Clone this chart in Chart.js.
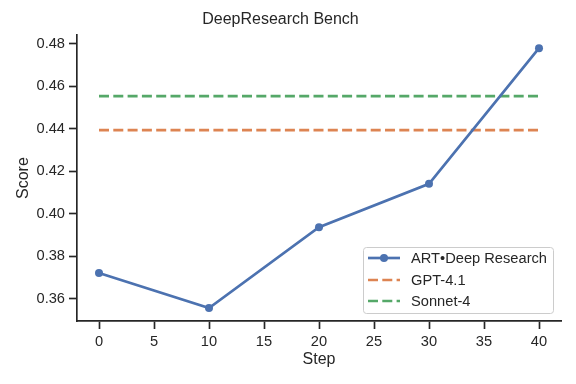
<!DOCTYPE html>
<html>
<head>
<meta charset="utf-8">
<script src="https://cdn.jsdelivr.net/npm/chart.js@4"></script>
<style>
  html, body { margin: 0; padding: 0; background: #fff; }
  #wrap { width: 576px; height: 384px; }
</style>
</head>
<body>
<div id="wrap"><canvas id="chart" width="576" height="384"></canvas></div>
<script>
// 데이터
const steps = [0, 10, 20, 30, 40];
const artScores = [0.3721, 0.3556, 0.3937, 0.4141, 0.478];
const gptScore = 0.4394;
const sonnetScore = 0.4554;
const xTicks = [0, 5, 10, 15, 20, 25, 30, 35, 40];
const yTicks = [0.36, 0.38, 0.40, 0.42, 0.44, 0.46, 0.48];
const seriesLabels = ['ART•Deep Research', 'GPT-4.1', 'Sonnet-4'];

const INK = '#262626';
const FONT = "'Liberation Sans', Arial, sans-serif";
const COLORS = ['#4c72b0', '#dd8452', '#55a868'];

// 범례 (차트 영역 안 오른쪽 아래)
const insideLegend = {
  id: 'insideLegend',
  afterDraw(chart) {
    const { ctx, chartArea } = chart;
    const w = 190, h = 66;
    const x = chartArea.right - 8 - w;
    const y = chartArea.bottom - 8 - h;
    ctx.save();
    ctx.beginPath();
    ctx.roundRect(x + 0.5, y + 0.5, w, h, 3);
    ctx.fillStyle = 'rgba(255,255,255,0.8)';
    ctx.fill();
    ctx.strokeStyle = '#cccccc';
    ctx.lineWidth = 1;
    ctx.stroke();

    const rows = [11, 33, 54];
    chart.data.datasets.forEach((ds, i) => {
      const ry = y + rows[i];
      ctx.beginPath();
      ctx.setLineDash(ds.borderDash || []);
      ctx.strokeStyle = ds.borderColor;
      ctx.lineWidth = ds.borderWidth;
      ctx.moveTo(x + 5, ry);
      ctx.lineTo(x + 37, ry);
      ctx.stroke();
      ctx.setLineDash([]);
      if (ds.pointRadius > 0) {
        ctx.beginPath();
        ctx.fillStyle = ds.borderColor;
        ctx.arc(x + 21, ry, 4, 0, Math.PI * 2);
        ctx.fill();
      }
      ctx.fillStyle = INK;
      ctx.font = '14.67px ' + FONT;
      ctx.textBaseline = 'middle';
      ctx.fillText(ds.label, x + 48, ry + 1);
    });
    ctx.restore();
  },
};

const ctx = document.getElementById('chart');

new Chart(ctx.getContext('2d'), {
  type: 'line',
  data: {
    datasets: [
      {
        label: seriesLabels[0],
        data: steps.map((s, i) => ({ x: s, y: artScores[i] })),
        borderColor: COLORS[0],
        backgroundColor: COLORS[0],
        borderWidth: 2.67,
        pointRadius: 4,
        pointBorderWidth: 0,
        pointBackgroundColor: COLORS[0],
        tension: 0,
      },
      {
        label: seriesLabels[1],
        data: [steps[0], steps[steps.length - 1]].map((s) => ({ x: s, y: gptScore })),
        borderColor: COLORS[1],
        borderWidth: 2.67,
        borderDash: [10, 4.3],
        pointRadius: 0,
      },
      {
        label: seriesLabels[2],
        data: [steps[0], steps[steps.length - 1]].map((s) => ({ x: s, y: sonnetScore })),
        borderColor: COLORS[2],
        borderWidth: 2.67,
        borderDash: [10, 4.3],
        pointRadius: 0,
      },
    ],
  },
  options: {
    responsive: false,
    animation: false,
    layout: { padding: { left: 0, right: 15, top: 0, bottom: 0 } },
    plugins: {
      legend: { display: false },
      tooltip: { enabled: false },
      title: {
        display: true,
        text: 'DeepResearch Bench',
        color: INK,
        font: { family: FONT, size: 16, weight: 'normal' },
        padding: { top: 10, bottom: 6 },
      },
    },
    scales: {
      x: {
        type: 'linear',
        min: -2,
        max: 42,
        afterBuildTicks: (scale) => {
          scale.ticks = xTicks.map((v) => ({ value: v }));
        },
        afterFit: (scale) => {
          scale.height = 63;
        },
        ticks: {
          color: INK,
          padding: 4,
          font: { family: FONT, size: 14.67 },
          maxRotation: 0,
        },
        grid: {
          drawOnChartArea: false,
          drawTicks: true,
          tickLength: 8,
          tickWidth: 1.67,
          tickColor: INK,
        },
        border: { display: true, color: INK, width: 1.67 },
        title: {
          display: true,
          text: 'Step',
          color: INK,
          font: { family: FONT, size: 16 },
          padding: { top: 2, bottom: 15 },
        },
      },
      y: {
        type: 'linear',
        min: 0.3495,
        max: 0.4841,
        afterBuildTicks: (scale) => {
          scale.ticks = yTicks.map((v) => ({ value: v }));
        },
        afterFit: (scale) => {
          scale.width = 77;
        },
        ticks: {
          color: INK,
          padding: 4,
          font: { family: FONT, size: 14.67 },
          callback: (value) => value.toFixed(2),
        },
        grid: {
          drawOnChartArea: false,
          drawTicks: true,
          tickLength: 8,
          tickWidth: 1.67,
          tickColor: INK,
        },
        border: { display: true, color: INK, width: 1.67 },
        title: {
          display: true,
          text: 'Score',
          color: INK,
          font: { family: FONT, size: 16 },
          padding: { top: 14, bottom: 0 },
        },
      },
    },
  },
  plugins: [insideLegend],
});
</script>
</body>
</html>
